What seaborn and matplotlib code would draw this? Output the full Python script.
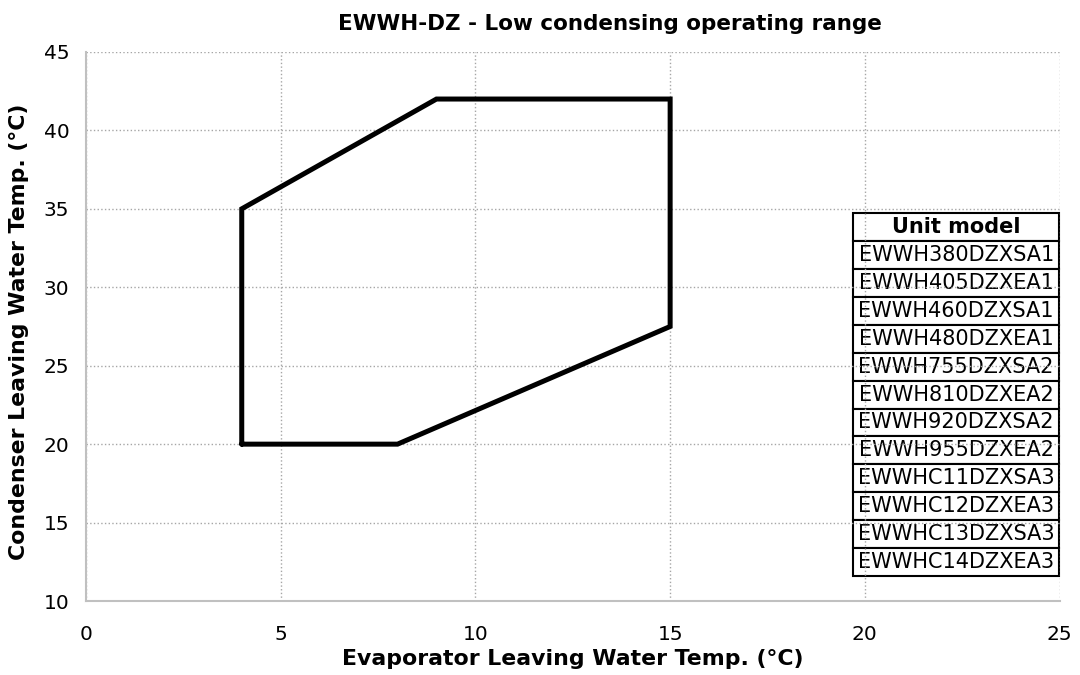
import matplotlib
matplotlib.use("Agg")
import matplotlib.pyplot as plt
import seaborn as sns
import pandas as pd

# operating envelope (closed polygon)
evap_temp = [4, 8, 15, 15, 9, 4, 4]
cond_temp = [20, 20, 27.5, 42, 42, 35, 20]

unit_models = [
    "EWWH380DZXSA1", "EWWH405DZXEA1", "EWWH460DZXSA1", "EWWH480DZXEA1",
    "EWWH755DZXSA2", "EWWH810DZXEA2", "EWWH920DZXSA2", "EWWH955DZXEA2",
    "EWWHC11DZXSA3", "EWWHC12DZXEA3", "EWWHC13DZXSA3", "EWWHC14DZXEA3",
]

sns.set_style("white")
plt.rcParams["font.family"] = ["DejaVu Sans"]
plt.rcParams["text.color"] = "black"
plt.rcParams["axes.labelcolor"] = "black"
plt.rcParams["xtick.color"] = "black"
plt.rcParams["ytick.color"] = "black"

df = pd.DataFrame({"evap": evap_temp, "cond": cond_temp})

fig = plt.figure(figsize=(10.8, 6.75), dpi=100)
ax = fig.add_axes([0.0796, 0.1096, 0.9015, 0.8134])

sns.lineplot(data=df, x="evap", y="cond", sort=False, estimator=None,
             color="black", linewidth=3.6, ax=ax, solid_joinstyle="miter")

ax.set_xlim(0, 25)
ax.set_ylim(10, 45)
ax.set_xticks(range(0, 26, 5))
ax.set_yticks(range(10, 46, 5))
ax.grid(True, linestyle=":", color="#a6a6a6", linewidth=1)
for side in ["top", "right"]:
    ax.spines[side].set_visible(False)
for side in ["left", "bottom"]:
    ax.spines[side].set_color("#c0c0c0")
    ax.spines[side].set_linewidth(1.5)
ax.tick_params(axis="x", length=0, labelsize=14.5, pad=17)
ax.tick_params(axis="y", length=0, labelsize=14.5, pad=12)

ax.set_title("EWWH-DZ - Low condensing operating range", fontsize=15.5,
             fontweight="bold", pad=16, x=0.538)
ax.set_xlabel("Evaporator Leaving Water Temp. (°C)", fontsize=15.8, fontweight="bold", labelpad=4)
ax.set_ylabel("Condenser Leaving Water Temp. (°C)", fontsize=15.8, fontweight="bold")
ax.yaxis.set_label_coords(-0.0585, 0.49)

cells = [["Unit model"]] + [[m] for m in unit_models]
tbl = ax.table(cellText=cells, cellLoc="center", bbox=[0.788, 0.0455, 0.2115, 0.661])
tbl.auto_set_font_size(False)
for (r, c), cell in tbl.get_celld().items():
    cell.set_linewidth(1.5)
    cell.set_edgecolor("black")
    cell.set_facecolor("white")
    cell.PAD = 0.01
    cell.get_text().set_fontsize(15)
    if r == 0:
        cell.get_text().set_fontweight("bold")

fig.savefig("out.png", dpi=100)
